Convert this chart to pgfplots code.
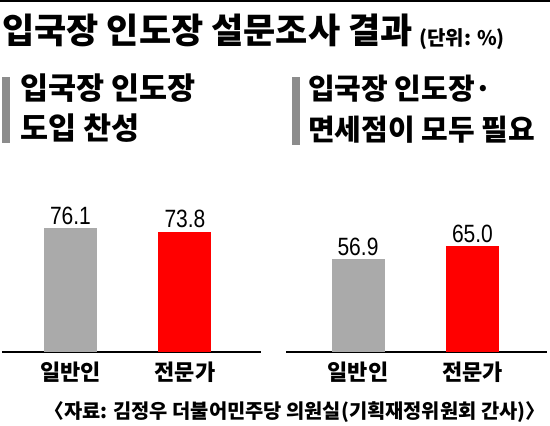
\documentclass[border=0pt]{standalone}
\usepackage{pgfplots}
\pgfplotsset{compat=1.18}
\usepackage{fontspec}
\setmainfont{Liberation Sans}
\newfontfamily\cjk{Noto Sans CJK KR}
\IfFontExistsTF{Noto Sans CJK KR Black}
  {\newfontfamily\cjkheavy{Noto Sans CJK KR Black}}
  {\newfontfamily\cjkheavy{Noto Sans CJK KR}[UprightFont=* Bold]}
\newfontfamily\numfont[FakeStretch=0.84]{Liberation Sans}
\definecolor{barGray}{RGB}{170,170,170}
\definecolor{barRed}{RGB}{255,0,0}
\definecolor{tagGray}{RGB}{140,140,140}

\pgfplotsset{
  panel/.style={
    scale only axis,
    height=150pt,
    ymin=0, ymax=92,
    ybar, bar width=53pt, bar shift=0pt,
    axis x line*=bottom,
    hide y axis,
    axis line style={line width=1.5pt},
    xtick={0,1},
    xticklabels={일반인,전문가},
    major tick length=0pt,
    xticklabel style={font=\cjkheavy\fontsize{22}{22}\selectfont, yshift=-6pt},
    nodes near coords,
    nodes near coords style={font=\numfont\fontsize{25}{25}\selectfont,
      /pgf/number format/assume math mode=true,
      /pgf/number format/fixed, /pgf/number format/zerofill,
      /pgf/number format/precision=1},
    clip=false,
  }
}

\begin{document}
\begin{tikzpicture}[x=1pt, y=1pt]
\useasboundingbox (0,0) rectangle (550,426);
\fill[black] (0,423.5) rectangle (550,426);

% titles
\node[anchor=west, inner sep=0, font=\cjkheavy\fontsize{35}{35}\selectfont] at (2,396) {입국장 인도장 설문조사 결과};
\node[anchor=west, inner sep=0, font=\cjk\bfseries\fontsize{20}{20}\selectfont] at (419,387) {(단위: \%)};

% left panel heading
\fill[tagGray] (2,283) rectangle (10,349);
\node[anchor=west, inner sep=0, font=\cjkheavy\fontsize{30.5}{30.5}\selectfont] at (20,337.5) {입국장 인도장};
\node[anchor=west, inner sep=0, font=\cjkheavy\fontsize{30.5}{30.5}\selectfont] at (20,297.5) {도입 찬성};

% right panel heading
\fill[tagGray] (292,281) rectangle (300,349);
\node[anchor=west, inner sep=0, font=\cjkheavy\fontsize{29}{29}\selectfont] at (308,337) {입국장 인도장·};
\node[anchor=west, inner sep=0, font=\cjkheavy\fontsize{29}{29}\selectfont] at (308,296) {면세점이 모두 필요};

\begin{axis}[panel, at={(2pt,74pt)}, anchor=south west, width=259pt,
  xmin=-0.598, xmax=1.664]
  \addplot[fill=barGray, draw=none] coordinates {(0,76.1)};
  \addplot[fill=barRed, draw=none] coordinates {(1,73.8)};
\end{axis}

\begin{axis}[panel, at={(286pt,74pt)}, anchor=south west, width=261pt,
  xmin=-0.629, xmax=1.651]
  \addplot[fill=barGray, draw=none] coordinates {(0,56.9)};
  \addplot[fill=barRed, draw=none] coordinates {(1,65.0)};
\end{axis}

\node[anchor=west, inner sep=0, font=\cjk\bfseries\fontsize{19.8}{19.8}\selectfont] at (55,14) {\makebox[0.45em][r]{〈}자료: 김정우 더불어민주당 의원실(기획재정위원회 간사)\makebox[0.45em][l]{〉}};
\end{tikzpicture}
\end{document}
